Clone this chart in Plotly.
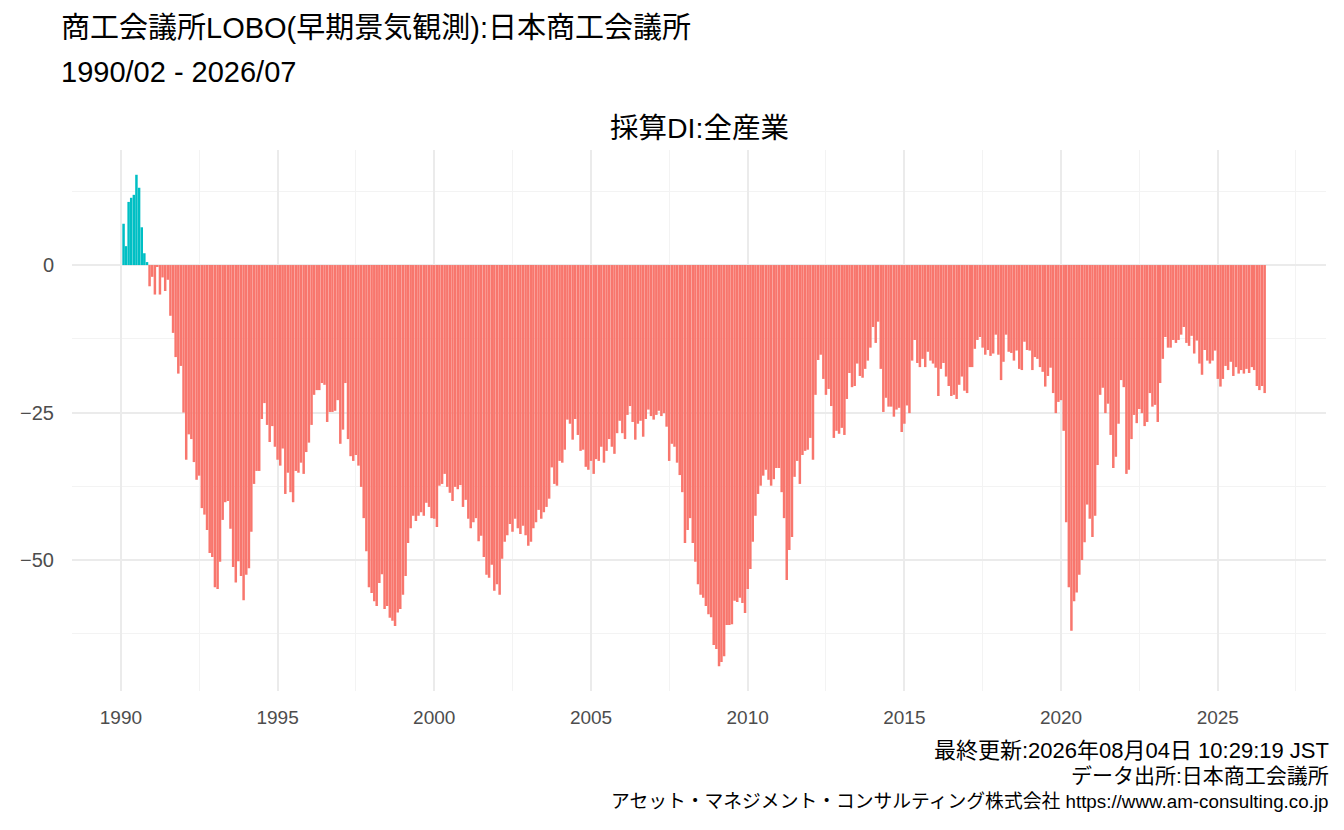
import pandas as pd
import plotly.graph_objects as go

# 採算DI:全産業 (monthly, starting 1990/02)
start_month = "1990-02-01"
saisan_di = [
    # 1990/02 -
    7.0, 3.2, 10.7, 11.4, 11.9, 15.3, 13.1, 6.4, 2.0, 0.5, -3.6, -2.0, -5.0, -0.3, -5.0, -2.1, -4.4, -2.5,
    -8.6, -11.5, -15.6, -18.4, -17.1, -25.0, -33.0, -28.7, -29.5, -33.4, -36.4, -35.7, -41.2, -42.3, -44.9,
    -48.8, -49.5,
    -54.6, -54.9, -50.3, -43.2, -40.2, -40.0, -44.7, -51.2, -53.8, -50.2, -52.7, -56.8, -52.5, -51.4, -45.2,
    -37.1, -34.9, -34.9, -26.1, -23.4, -27.1, -30.0, -27.3, -30.8, -33.0, -34.0, -31.1, -38.8, -35.2, -38.5,
    -40.2, -34.9, -35.2, -33.5, -35.4, -31.7,
    -30.1, -27.1, -22.0, -21.2, -21.2, -20.0, -20.3, -26.6, -24.9, -24.9, -24.7, -22.9, -30.3, -27.9, -20.0,
    -29.5, -32.4, -33.2, -32.2, -34.0, -37.6, -42.9, -48.5, -54.6, -55.6, -57.0, -57.8, -53.9, -52.4, -58.3,
    -57.8, -59.8, -60.3, -61.2, -58.9, -58.3,
    -55.9, -52.7, -47.1, -44.6, -42.5, -43.4, -42.5, -41.9, -42.5, -40.3, -41.0, -42.9, -43.0, -44.4, -37.4,
    -37.1, -35.4, -37.6, -38.6, -40.0, -37.6, -38.0, -37.3, -41.0, -39.8, -43.0, -44.6, -43.6, -42.9, -46.8,
    -45.9, -49.5, -52.5, -53.0, -50.8, -55.2,
    -54.1, -55.9, -49.8, -46.9, -45.8, -43.9, -45.2, -43.0, -44.6, -45.6, -44.2, -45.8, -47.6, -46.9, -44.6,
    -43.6, -41.5, -43.0, -41.9, -41.0, -39.6, -34.3, -37.1, -37.4, -33.2, -33.5, -31.3, -26.2, -26.9, -29.6,
    -26.1, -28.8, -31.5, -31.3, -34.2, -34.7, -33.2,
    -35.4, -32.9, -33.2, -30.8, -33.5, -31.5, -29.5, -30.8, -32.0, -28.5, -26.4, -28.5, -29.5, -25.4, -23.9,
    -26.6, -29.6, -26.9, -26.4, -29.1, -26.1, -24.5, -25.6, -26.2, -25.4, -24.7, -25.6, -25.1, -27.4, -33.2,
    -30.3, -30.8, -33.5, -35.6, -38.5,
    -47.1, -44.9, -42.9, -47.1, -50.3, -54.1, -55.9, -56.4, -57.8, -59.2, -59.7, -64.4, -65.1, -68.0, -67.3,
    -66.3, -61.0, -61.0, -60.9, -56.9, -57.1, -56.4, -57.3, -59.0, -54.9, -51.5, -46.9, -42.5, -38.8, -37.4,
    -35.7, -34.7, -36.4, -37.4, -36.3, -34.4, -34.4, -38.5, -42.9,
    -53.4, -48.3, -46.1, -35.9, -33.2, -37.1, -32.2, -31.5, -31.3, -29.3, -33.0, -22.0, -16.1, -15.2, -19.3,
    -22.0, -21.0, -23.9, -29.3, -28.1, -28.6, -27.6, -28.8, -22.7, -18.3, -20.7, -20.5, -16.7, -18.8, -19.1,
    -17.6, -16.2, -14.0, -10.5, -13.2, -9.6, -17.6,
    -24.9, -22.5, -24.0, -24.0, -25.7, -24.5, -24.2, -28.3, -26.9, -23.8, -25.1, -16.2, -12.7, -16.6, -17.3,
    -15.9, -17.3, -14.7, -16.2, -16.7, -17.4, -22.2, -17.6, -16.6, -18.9, -20.5, -22.2, -22.0, -22.7, -20.3,
    -18.9, -21.3, -21.7, -17.3,
    -17.3, -14.2, -12.7, -12.2, -14.0, -15.2, -14.4, -15.4, -15.0, -11.8, -15.2, -19.5, -16.4, -11.8, -14.7,
    -14.9, -16.2, -14.5, -17.6, -17.8, -13.0, -14.4, -14.5, -17.8, -15.6, -15.9, -17.3, -18.1, -20.6, -18.8,
    -17.4, -21.7, -25.1, -23.2, -22.9, -28.1, -43.6, -54.6, -62.0,
    -57.0, -55.5, -52.5, -50.0, -47.0, -40.6, -43.0, -46.1, -42.5, -33.9, -22.0, -20.8, -25.1, -23.5, -28.8,
    -34.4, -32.5, -26.9, -19.5, -20.7, -35.4, -34.7, -29.5, -25.4, -26.8, -24.4, -25.1, -27.3, -26.6, -21.7,
    -24.0, -23.7, -26.6, -20.0, -15.9,
    -12.2, -14.0, -14.0, -12.7, -13.2, -12.7, -11.8, -10.5, -13.2, -13.7, -12.0, -15.0, -12.8, -16.7, -18.6,
    -14.4, -16.2, -16.7, -16.2, -14.5, -19.3, -20.6, -19.3, -17.1, -17.8, -16.4, -18.8, -17.3, -18.4, -17.8,
    -18.4, -17.6, -18.3, -17.3, -17.8, -20.5, -21.2, -20.5, -21.7,
]

title_line1 = "商工会議所LOBO(早期景気観測):日本商工会議所"
title_line2 = "1990/02 - 2026/07"
subtitle = "採算DI:全産業"
caption_lines = [
    "最終更新:2026年08月04日 10:29:19 JST",
    "データ出所:日本商工会議所",
    "アセット・マネジメント・コンサルティング株式会社 https://www.am-consulting.co.jp",
]
caption_sizes = [22, 21, 18.8]
y_ticks = [-50, -25, 0]

months = pd.date_range(start_month, periods=len(saisan_di), freq="MS")
POS = "#00BFC4"
NEG = "#F8766D"
colors = [POS if v > 0 else NEG for v in saisan_di]

FONT = "Liberation Sans, Arial, Noto Sans CJK JP, sans-serif"

fig = go.Figure()
fig.add_trace(go.Bar(
    x=months, y=saisan_di,
    marker=dict(color=colors, line=dict(width=0)),
    width=29 * 86400000,
    showlegend=False,
))

# page body has an 8px margin; figure is sized/offset to compensate
fig.update_layout(
    width=1336, height=822,
    margin=dict(l=55, r=18, t=142, b=139),
    paper_bgcolor="white", plot_bgcolor="white",
    font=dict(family=FONT, color="black"),
    bargap=0.05,
)
fig.update_xaxes(
    type="date",
    range=["1988-06-10", "2028-06-15"],
    tick0="1990-01-01", dtick="M60", tickformat="%Y",
    showgrid=True, gridcolor="#EBEBEB", gridwidth=1.6,
    minor=dict(dtick="M30", tick0="1990-01-01", showgrid=True, gridcolor="#F3F3F3", gridwidth=0.9),
    zeroline=False, showline=False,
    ticks="outside", ticklen=9, tickcolor="rgba(0,0,0,0)",
    tickfont=dict(size=19, color="#4D4D4D", family=FONT),
)
fig.update_yaxes(
    range=[-72.2, 19.5],
    tickvals=y_ticks,
    showgrid=True, gridcolor="#EBEBEB", gridwidth=1.6,
    minor=dict(tickvals=[-62.5, -37.5, -12.5, 12.5], showgrid=True, gridcolor="#F3F3F3", gridwidth=0.9),
    zeroline=False, showline=False,
    ticks="outside", ticklen=13, tickcolor="rgba(0,0,0,0)",
    tickfont=dict(size=20, color="#4D4D4D", family=FONT),
)

def py(ypix):
    return 1 - (ypix - 150) / 541.0

ann = [
    dict(text=title_line1, x=-0.0105, y=py(28), xanchor="left", yanchor="middle", font=dict(size=29)),
    dict(text=title_line2, x=-0.0105, y=py(72), xanchor="left", yanchor="middle", font=dict(size=29)),
    dict(text=subtitle, x=0.5, y=py(128), xanchor="center", yanchor="middle", font=dict(size=28.5)),
]
for i, line in enumerate(caption_lines):
    ann.append(dict(text=line, x=1.004, y=py(750 + 25.5 * i), xanchor="right", yanchor="middle",
                    font=dict(size=caption_sizes[i])))
for a in ann:
    a.update(xref="paper", yref="paper", showarrow=False)
    a["font"]["family"] = FONT
    a["font"]["color"] = "black"
fig.update_layout(annotations=ann)

fig.write_html("out.html")
